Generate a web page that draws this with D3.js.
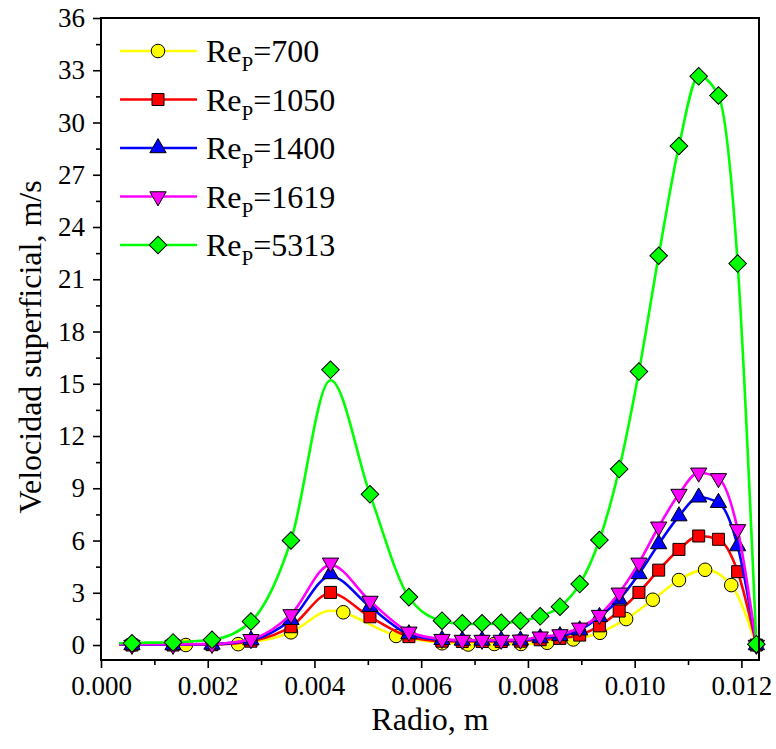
<!DOCTYPE html>
<html>
<head>
<meta charset="utf-8">
<script src="https://cdn.jsdelivr.net/npm/d3@7"></script>
<style>
  body { margin: 0; background: #fff; }
  svg { display: block; }
</style>
</head>
<body>
<svg id="chart" width="776" height="749"></svg>
<script>
// Radial positions (m) of the sampled points for Re_P = 1050, 1400, 1619, 5313
const radio = [0.00058, 0.00135, 0.00208, 0.00281, 0.00356, 0.00430, 0.00504, 0.00577,
  0.00639, 0.00677, 0.00714, 0.00750, 0.00786, 0.00823, 0.00860, 0.00897, 0.00934,
  0.00971, 0.01008, 0.01045, 0.01083, 0.01120, 0.01157, 0.01193, 0.01228];
// Radial positions (m) of the sampled points for Re_P = 700
const radio700 = [0.00060, 0.00159, 0.00257, 0.00356, 0.00454, 0.00553, 0.00639, 0.00688,
  0.00737, 0.00787, 0.00836, 0.00885, 0.00935, 0.00984, 0.01034, 0.01083, 0.01132,
  0.01181, 0.01228];

// Superficial velocity (m/s) at the sampled points
const vel700  = [0.02, 0.00, 0.05, 0.73, 1.88, 0.52, 0.10, 0.03, 0.06, 0.06, 0.13, 0.32,
  0.70, 1.49, 2.60, 3.73, 4.32, 3.44, 0.00];
const vel1050 = [0.00, 0.00, 0.02, 0.22, 1.05, 3.02, 1.62, 0.48, 0.22, 0.20, 0.20, 0.20,
  0.22, 0.30, 0.38, 0.57, 1.10, 1.95, 3.02, 4.30, 5.49, 6.26, 6.07, 4.21, 0.00];
const vel1400 = [0.00, 0.00, 0.03, 0.28, 1.45, 4.08, 2.20, 0.63, 0.30, 0.26, 0.26, 0.26,
  0.27, 0.40, 0.52, 0.85, 1.62, 2.62, 4.08, 5.80, 7.40, 8.48, 8.17, 5.68, 0.00];
const vel1619 = [0.00, 0.00, 0.05, 0.33, 1.76, 4.72, 2.53, 0.76, 0.34, 0.29, 0.29, 0.29,
  0.30, 0.48, 0.61, 0.99, 1.72, 3.00, 4.72, 6.79, 8.67, 9.89, 9.57, 6.64, 0.00];
const vel5313 = [0.10, 0.15, 0.30, 1.35, 6.00, 15.80, 8.65, 2.75, 1.40, 1.25, 1.25, 1.28,
  1.38, 1.65, 2.20, 3.50, 6.03, 10.10, 15.70, 22.35, 28.65, 32.65, 31.55, 21.90, 0.05];

// Fitted profiles drawn as smooth curves
const radioFit = [0.00034, 0.00058, 0.00135, 0.00208, 0.00281, 0.00356, 0.00430, 0.00504,
  0.00577, 0.00639, 0.00677, 0.00714, 0.00750, 0.00786, 0.00823, 0.00860, 0.00897,
  0.00934, 0.00971, 0.01008, 0.01045, 0.01083, 0.01120, 0.01157, 0.01193, 0.01228];
const radioFit700 = [0.00034, 0.00060, 0.00159, 0.00257, 0.00356, 0.00430, 0.00553, 0.00639,
  0.00688, 0.00737, 0.00787, 0.00836, 0.00885, 0.00935, 0.00984, 0.01034, 0.01083,
  0.01132, 0.01181, 0.01228];
const fit700  = [0.02, 0.02, 0.02, 0.10, 0.73, 1.97, 0.55, 0.13, 0.06, 0.05, 0.06, 0.12,
  0.30, 0.72, 1.50, 2.60, 3.73, 4.33, 3.44, 0.00];
const fit1050 = [0.02, 0.02, 0.02, 0.03, 0.22, 1.05, 2.97, 1.62, 0.48, 0.22, 0.20, 0.20,
  0.20, 0.22, 0.30, 0.38, 0.57, 1.10, 1.95, 3.02, 4.30, 5.49, 6.26, 6.07, 4.21, 0.00];
const fit1400 = [0.03, 0.03, 0.03, 0.05, 0.28, 1.45, 3.95, 2.20, 0.63, 0.30, 0.26, 0.26,
  0.26, 0.27, 0.40, 0.52, 0.85, 1.62, 2.62, 4.08, 5.80, 7.40, 8.48, 8.17, 5.68, 0.00];
const fit1619 = [0.04, 0.04, 0.04, 0.06, 0.33, 1.76, 4.60, 2.53, 0.76, 0.34, 0.29, 0.29,
  0.29, 0.30, 0.48, 0.61, 0.99, 1.72, 3.00, 4.72, 6.79, 8.67, 9.89, 9.57, 6.64, 0.00];
const fit5313 = [0.10, 0.12, 0.16, 0.30, 1.35, 6.00, 15.20, 8.65, 2.75, 1.38, 1.22, 1.20,
  1.25, 1.38, 1.65, 2.20, 3.50, 6.03, 10.10, 15.70, 22.35, 28.65, 32.65, 31.55, 21.90, 0.05];

const reLabels = ["700", "1050", "1400", "1619", "5313"];
const yTicks = [0, 3, 6, 9, 12, 15, 18, 21, 24, 27, 30, 33, 36];
const xTicks = [0, 0.002, 0.004, 0.006, 0.008, 0.010, 0.012];

const series = [
  { re: reLabels[0], px: radio700, py: vel700,  fx: radioFit700, fy: fit700,  color: "#ffff00", shape: "circle" },
  { re: reLabels[1], px: radio,    py: vel1050, fx: radioFit,    fy: fit1050, color: "#ff0000", shape: "square" },
  { re: reLabels[2], px: radio,    py: vel1400, fx: radioFit,    fy: fit1400, color: "#0000ff", shape: "up" },
  { re: reLabels[3], px: radio,    py: vel1619, fx: radioFit,    fy: fit1619, color: "#ff00ff", shape: "down" },
  { re: reLabels[4], px: radio,    py: vel5313, fx: radioFit,    fy: fit5313, color: "#00ff00", shape: "diamond" }
];

const svg = d3.select("#chart");
const L = 101, R = 759, T = 18, B = 660;
const FONT = "Liberation Serif";

function serif(sel) {
  return sel.attr("font-family", FONT).style("font-family", `"${FONT}"`).attr("fill", "#000");
}

const x = d3.scaleLinear().domain([0, 0.01233]).range([L, R]);
const y = d3.scaleLinear().domain([-0.86, 36]).range([B, T]);

function symbolPath(shape) {
  const s = {
    circle:  d3.symbol(d3.symbolCircle, 145),
    square:  d3.symbol(d3.symbolSquare, 144),
    up:      d3.symbol(d3.symbolTriangle, 115),
    down:    d3.symbol(d3.symbolTriangle, 115),
    diamond: d3.symbol(d3.symbolSquare, 155)
  }[shape];
  return s();
}
function symbolRotate(shape) {
  return shape === "down" ? 180 : shape === "diamond" ? 45 : 0;
}

// Axes
const yAxis = d3.axisLeft(y).tickValues(yTicks).tickSize(8).tickPadding(8).tickFormat(d3.format("d"));
const yMinor = d3.axisLeft(y).tickValues(d3.range(1.5, 36, 3)).tickSize(5).tickFormat("");
const xAxis = d3.axisBottom(x).tickValues(xTicks).tickSize(8).tickPadding(8).tickFormat(d3.format(".3f"));
const xMinor = d3.axisBottom(x).tickValues([0.001, 0.003, 0.005, 0.007, 0.009, 0.011]).tickSize(5).tickFormat("");

function styleAxis(g) {
  g.call(serif);
  g.select(".domain").remove();
  g.selectAll(".tick line").attr("stroke", "#000").attr("stroke-width", 1.6);
  g.selectAll(".tick text").call(serif).attr("font-size", 27);
}

svg.append("g").attr("transform", `translate(${L},0)`).call(yAxis).call(styleAxis);
svg.append("g").attr("transform", `translate(${L},0)`).call(yMinor).call(styleAxis);
svg.append("g").attr("transform", `translate(0,${B})`).call(xAxis).call(styleAxis);
svg.append("g").attr("transform", `translate(0,${B})`).call(xMinor).call(styleAxis);

// Curves and symbols
const line = d3.line().x(d => x(d[0])).y(d => y(d[1])).curve(d3.curveMonotoneX);

series.forEach(s => {
  const fitPts = s.fx.map((v, i) => [v, s.fy[i]]);
  const pts = s.px.map((v, i) => [v, s.py[i]]);
  svg.append("path")
    .attr("d", line(fitPts))
    .attr("fill", "none")
    .attr("stroke", s.color)
    .attr("stroke-width", 2.6);
  svg.append("g").selectAll("path")
    .data(pts)
    .join("path")
    .attr("d", symbolPath(s.shape))
    .attr("transform", d => `translate(${x(d[0])},${y(d[1])}) rotate(${symbolRotate(s.shape)})`)
    .attr("fill", s.color)
    .attr("stroke", "#000")
    .attr("stroke-width", 1);
});

// Plot frame
svg.append("rect")
  .attr("x", L).attr("y", T).attr("width", R - L).attr("height", B - T)
  .attr("fill", "none").attr("stroke", "#000").attr("stroke-width", 2);

// Axis titles
svg.append("text").call(serif)
  .attr("x", (L + R) / 2).attr("y", 730)
  .attr("text-anchor", "middle")
  .attr("font-size", 32)
  .text("Radio, m");

svg.append("text").call(serif)
  .attr("transform", `translate(41,${(T + B) / 2 + 8}) rotate(-90)`)
  .attr("text-anchor", "middle")
  .attr("font-size", 32)
  .text("Velocidad superficial, m/s");

// Legend
const legend = svg.append("g");
const rowY = d3.scaleLinear().domain([0, 4]).range([51, 245]);
series.forEach((s, i) => {
  const cy = rowY(i);
  legend.append("line")
    .attr("x1", 120).attr("x2", 197).attr("y1", cy).attr("y2", cy)
    .attr("stroke", s.color).attr("stroke-width", 2.6);
  legend.append("path")
    .attr("d", symbolPath(s.shape))
    .attr("transform", `translate(158,${cy}) rotate(${symbolRotate(s.shape)})`)
    .attr("fill", s.color).attr("stroke", "#000").attr("stroke-width", 1);
  const t = legend.append("text").call(serif)
    .attr("x", 206).attr("y", cy + 11).attr("font-size", 32);
  t.append("tspan").text("Re");
  t.append("tspan").attr("font-size", 21).attr("dy", 9).text("P");
  t.append("tspan").attr("dy", -9).text("=" + s.re);
});
</script>
</body>
</html>
